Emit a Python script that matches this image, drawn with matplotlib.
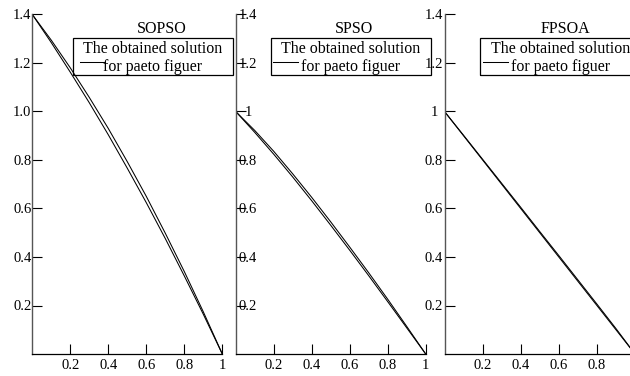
import matplotlib.pyplot as plt
from matplotlib.patches import Rectangle
from matplotlib.lines import Line2D

plt.rcParams["font.family"] = ["Liberation Serif", "DejaVu Serif"]

# values
titles = ["SOPSO", "SPSO", "FPSOA"]
legend_top = "The obtained solution"
legend_bottom = "for paeto figuer"

x_front = [0.0, 0.1, 0.2, 0.3, 0.4, 0.5, 0.6, 0.7, 0.8, 0.9, 1.0]

sopso_outer = [1.40, 1.294, 1.180, 1.058, 0.930, 0.793, 0.650, 0.498, 0.340, 0.174, 0.0]
sopso_inner = [1.40, 1.284, 1.162, 1.036, 0.904, 0.766, 0.624, 0.476, 0.322, 0.164, 0.0]

spso_outer = [1.0, 0.922, 0.836, 0.743, 0.646, 0.545, 0.441, 0.335, 0.226, 0.114, 0.0]
spso_inner = [1.0, 0.914, 0.824, 0.730, 0.632, 0.531, 0.428, 0.323, 0.216, 0.108, 0.0]

fpsoa_outer = [1.0, 0.902, 0.803, 0.704, 0.605, 0.505, 0.406, 0.306, 0.206, 0.105, 0.0]
fpsoa_inner = [1.0, 0.900, 0.800, 0.700, 0.600, 0.500, 0.400, 0.300, 0.200, 0.100, 0.0]

fronts = [
    (sopso_outer, sopso_inner),
    (spso_outer, spso_inner),
    (fpsoa_outer, fpsoa_inner),
]

xticks = [0.2, 0.4, 0.6, 0.8, 1.0]
xtick_labels = [
    ["0.2", "0.4", "0.6", "0.8", "1"],
    ["0.2", "0.4", "0.6", "0.8", "1"],
    ["0.2", "0.4", "0.6", "0.8", ""],  # the "1" falls past the figure edge
]
yticks = [0.2, 0.4, 0.6, 0.8, 1.0, 1.2, 1.4]
ytick_labels = [
    ["0.2", "0.4", "0.6", "0.8", "1.0", "1.2", "1.4"],
    ["0.2", "0.4", "0.6", "0.8", "1", "1.2", "1.4"],
    ["0.2", "0.4", "0.6", "0.8", "1", "1.2", "1.4"],
]

# layout, in pixels of the 630x376 figure
FIG_W, FIG_H = 630, 376
AXIS_Y_PX = 354
TOP_Y_PX = 14.5
panel_left = [32.3, 235.7, 444.5]
panel_width = [190, 190, 190.5]
ylabel_pad = [7.2, -8.9, 7.6]
title_x = [129.4, 118.3, 120.5]
box_left = [40.4, 35.0, 35.5]
handle_left = [7.3, 2.6, 3.0]

BOX_W = 160.3
BOX_TOP, BOX_BOTTOM = 38.3, 75.0

fig = plt.figure(figsize=(FIG_W / 100, FIG_H / 100), dpi=100)

panel_h = AXIS_Y_PX - TOP_Y_PX

for i in range(3):

    left = panel_left[i]
    width = panel_width[i]

    ax = fig.add_axes(
        [left / FIG_W, (FIG_H - AXIS_Y_PX) / FIG_H, width / FIG_W, panel_h / FIG_H]
    )
    ax.set_facecolor("none")

    def fx(px):
        return px / width

    def fy(py):
        return (AXIS_Y_PX - py) / panel_h

    outer, inner = fronts[i]
    ax.plot(x_front, outer, color="black", linewidth=0.75)
    ax.plot(x_front, inner, color="black", linewidth=0.75)

    ax.set_xlim(0, 1)
    ax.set_ylim(0, 1.4)

    ax.set_xticks(xticks)
    ax.set_xticklabels(xtick_labels[i])
    ax.set_yticks(yticks)
    ax.set_yticklabels(ytick_labels[i])

    for label in ax.get_yticklabels():
        label.set_horizontalalignment("center")

    ax.tick_params(axis="both", direction="in", length=7.2, width=0.8, labelsize=10.5)
    ax.tick_params(axis="x", pad=3.5)
    ax.tick_params(axis="y", pad=ylabel_pad[i])

    ax.spines["top"].set_visible(False)
    ax.spines["right"].set_visible(False)
    ax.spines["left"].set_color("#555555")
    ax.spines["left"].set_linewidth(1.0)
    ax.spines["bottom"].set_linewidth(0.9)

    ax.text(
        fx(title_x[i]), fy(33.3), titles[i],
        transform=ax.transAxes, ha="center", va="baseline", fontsize=11.5,
    )

    bx = box_left[i]
    ax.add_patch(
        Rectangle(
            (fx(bx), fy(BOX_BOTTOM)),
            fx(BOX_W),
            fy(BOX_TOP) - fy(BOX_BOTTOM),
            transform=ax.transAxes,
            fill=False,
            edgecolor="black",
            linewidth=0.9,
            clip_on=False,
        )
    )

    ax.text(
        fx(bx + BOX_W / 2), fy(53.3), legend_top,
        transform=ax.transAxes, ha="center", va="baseline", fontsize=11.5,
    )
    ax.text(
        fx(bx + BOX_W / 2), fy(71.0), legend_bottom,
        transform=ax.transAxes, ha="center", va="baseline", fontsize=11.5,
    )

    hx = bx + handle_left[i]
    ax.add_line(
        Line2D(
            [fx(hx), fx(hx + 25)], [fy(62.3), fy(62.3)],
            transform=ax.transAxes, color="black", linewidth=0.75, clip_on=False,
        )
    )

fig.savefig("out.png", dpi=100)
